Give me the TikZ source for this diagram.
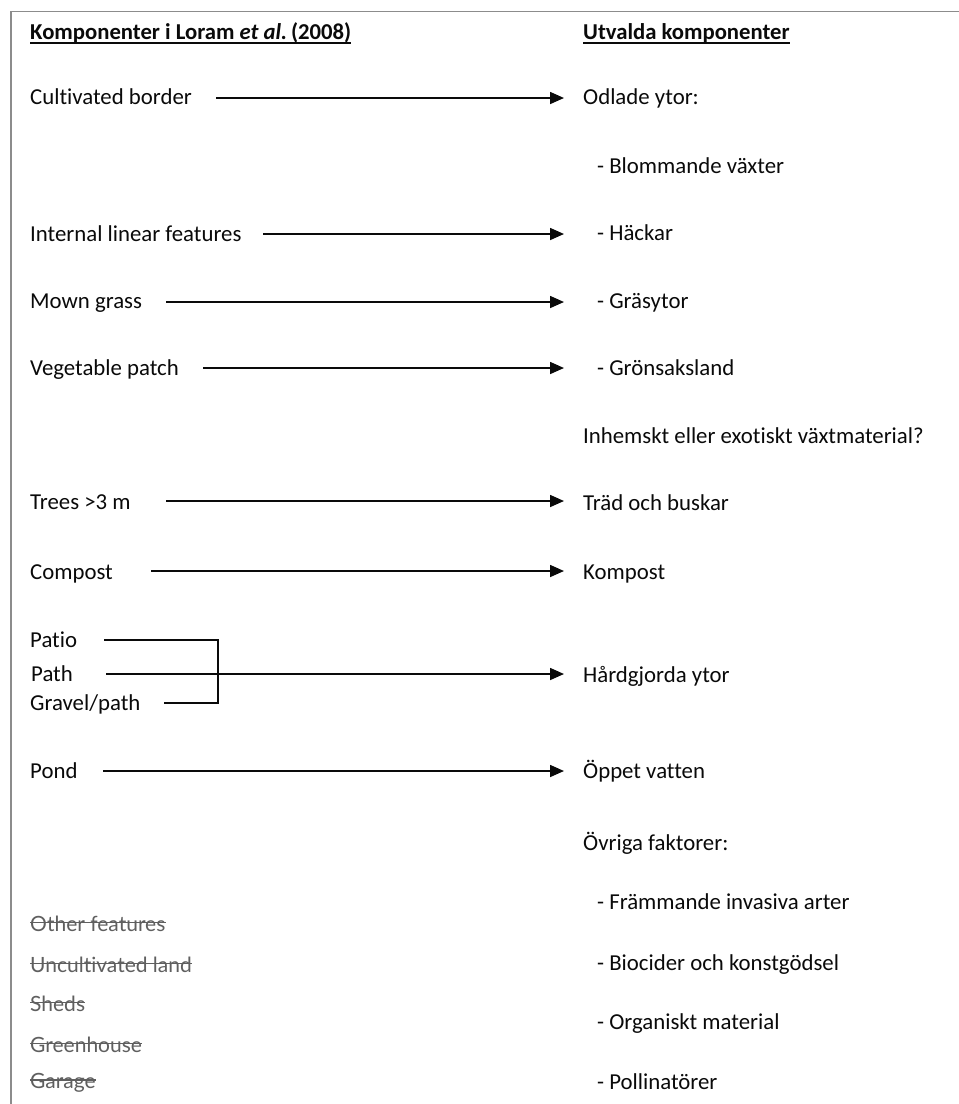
\documentclass[tikz,border=0pt]{standalone}
\usepackage{fontspec}
\setmainfont{Carlito}[RawFeature={-liga;-clig;-dlig}]
\newfontfamily\latof{Lato}[RawFeature={-liga;-clig}]
\usetikzlibrary{arrows.meta}
\definecolor{framegray}{RGB}{140,140,140}
\definecolor{strikegray}{RGB}{95,95,95}
\definecolor{inkc}{RGB}{10,10,10}
\tikzset{
  txt/.style={anchor=base west, inner sep=0pt, text=inkc, font=\fontsize{22.8}{27}\selectfont},
  hdr/.style={anchor=base west, inner sep=0pt, text=inkc, font=\bfseries\fontsize{22.7}{27}\selectfont},
  deltxt/.style={anchor=base west, inner sep=0pt, text=strikegray, font=\latof\fontsize{21}{25}\selectfont},
  conn/.style={draw=inkc, line width=1.6pt, -{Triangle[length=14pt,width=12pt]}},
  plainline/.style={draw=inkc, line width=1.6pt},
  ulline/.style={draw=inkc, line width=1.4pt},
  strikeline/.style={draw=strikegray, line width=1.3pt}
}
\begin{document}
\begin{tikzpicture}[x=1pt,y=-1pt]
\useasboundingbox (0,0) rectangle (959,1104);
\fill[white] (0,0) rectangle (959,1104);
% frame
\draw[framegray, line width=1.5pt] (11,1110) -- (11,11.5) -- (965,11.5);

% headers
\node[hdr] (h1) at (30,39.5) {Komponenter i Loram \textit{et al.}\,(2008)};
\node[hdr] (h2) at (583,39.5) {Utvalda komponenter};
\draw[ulline] ([yshift=-3.5pt]h1.base west) -- ([yshift=-3.5pt]h1.base east);
\draw[ulline] ([yshift=-3.5pt]h2.base west) -- ([yshift=-3.5pt]h2.base east);

% left column
\node[txt] (l1) at (30,104.3) {Cultivated border};
\node[txt] (l2) at (30,241.5) {Internal linear features};
\node[txt] (l3) at (30,308.5) {Mown grass};
\node[txt] (l4) at (30,375) {Vegetable patch};
\node[txt] (l5) at (30,509) {Trees >3 m};
\node[txt] (l6) at (30,579) {Compost};
\node[txt] (l7a) at (30,647) {Patio};
\node[txt] (l7b) at (31,681) {Path};
\node[txt] (l7c) at (30,710) {Gravel/path};
\node[txt] (l8) at (30,778) {Pond};

% right column
\node[txt] (r1) at (583,104) {Odlade ytor:};
\node[txt] (r1a) at (597,173) {- Blommande växter};
\node[txt] (r2) at (597,240.5) {- Häckar};
\node[txt] (r3) at (597,308.5) {- Gräsytor};
\node[txt] (r4) at (597,375) {- Grönsaksland};
\node[txt] (rq) at (583,443) {Inhemskt eller exotiskt växtmaterial?};
\node[txt] (r5) at (583,510) {Träd och buskar};
\node[txt] (r6) at (583,579) {Kompost};
\node[txt] (r7) at (583,682) {Hårdgjorda ytor};
\node[txt] (r8) at (583,778) {Öppet vatten};
\node[txt] (r9) at (583,850) {Övriga faktorer:};
\node[txt] (r9a) at (597,909) {- Främmande invasiva arter};
\node[txt] (r9b) at (597,970) {- Biocider och konstgödsel};
\node[txt] (r9c) at (597,1029) {- Organiskt material};
\node[txt] (r9d) at (597,1089) {- Pollinatörer};

% struck-out components
\node[deltxt] (d1) at (30,931) {Other features};
\node[deltxt] (d2) at (30,972) {Uncultivated land};
\node[deltxt] (d3) at (30,1011) {Sheds};
\node[deltxt] (d4) at (30,1052) {Greenhouse};
\node[deltxt] (d5) at (30,1088.5) {Garage};
\foreach \d in {d1,d2,d3,d4,d5}{
  \draw[strikeline] ([yshift=8.5pt]\d.base west) -- ([yshift=8.5pt]\d.base east);
}

% connector end points
\coordinate (s1) at (216,98);   \coordinate (e1) at (564,98);
\coordinate (s2) at (263,234);  \coordinate (e2) at (564,234);
\coordinate (s3) at (166,302);  \coordinate (e3) at (564,302);
\coordinate (s4) at (203,368);  \coordinate (e4) at (564,368);
\coordinate (s5) at (166,501);  \coordinate (e5) at (564,501);
\coordinate (s6) at (151,571);  \coordinate (e6) at (564,571);
\coordinate (s7a) at (104,640);
\coordinate (s7b) at (106,674); \coordinate (e7) at (564,674);
\coordinate (s7c) at (164,703);
\coordinate (bt) at (218,640);  \coordinate (bb) at (218,703);
\coordinate (s8) at (103,771);  \coordinate (e8) at (564,771);

\draw[conn] (s1) -- (e1);
\draw[conn] (s2) -- (e2);
\draw[conn] (s3) -- (e3);
\draw[conn] (s4) -- (e4);
\draw[conn] (s5) -- (e5);
\draw[conn] (s6) -- (e6);
\draw[plainline] (s7a) -- (bt) -- (bb) -- (s7c);
\draw[conn] (s7b) -- (e7);
\draw[conn] (s8) -- (e8);
\end{tikzpicture}
\end{document}
